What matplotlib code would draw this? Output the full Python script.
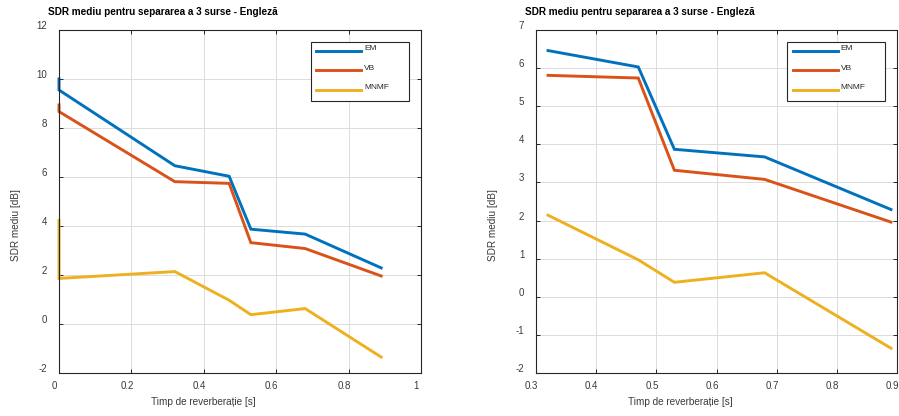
import matplotlib
matplotlib.use('Agg')
import matplotlib.pyplot as plt
from matplotlib.transforms import ScaledTranslation

plt.rcParams['font.family'] = ['Liberation Sans', 'DejaVu Sans']

# ---- data ----
reverb_time = [0.32, 0.47, 0.53, 0.68, 0.89]
em_sdr = [6.46, 6.03, 3.87, 3.67, 2.29]
vb_sdr = [5.81, 5.74, 3.32, 3.08, 1.96]
mnmf_sdr = [2.14, 0.97, 0.38, 0.63, -1.35]

# extra points present only in the left chart (at t = 0)
zero_time = [0, 0]
em_zero = [10.0, 9.55]
vb_zero = [8.94, 8.67]
mnmf_zero = [4.22, 1.86]

series_names = ['EM', 'VB', 'MNMF']
series_colors = ['#0072BD', '#D95319', '#EDB120']

title_text = 'SDR mediu pentru separarea a 3 surse - Engleză'
xlabel_text = 'Timp de reverberație [s]'
ylabel_text = 'SDR mediu [dB]'

left_xticks = [0, 0.2, 0.4, 0.6, 0.8, 1]
left_xticklabels = ['0', '0.2', '0.4', '0.6', '0.8', '1']
left_yticks = [-2, 0, 2, 4, 6, 8, 10, 12]
right_xticks = [0.3, 0.4, 0.5, 0.6, 0.7, 0.8, 0.9]
right_xticklabels = ['0.3', '0.4', '0.5', '0.6', '0.7', '0.8', '0.9']
right_yticks = [-2, -1, 0, 1, 2, 3, 4, 5, 6, 7]

W, H = 899, 416
fig = plt.figure(figsize=(W / 100, H / 100), dpi=100)

ax_l = fig.add_axes([59 / W, (H - 373) / H, 362 / W, 343 / H])
ax_r = fig.add_axes([536 / W, (H - 373) / H, 361 / W, 343 / H])

tick_col = '#262626'

left_series = [zero_time + reverb_time, [em_zero + em_sdr, vb_zero + vb_sdr, mnmf_zero + mnmf_sdr]]
right_series = [reverb_time, [em_sdr, vb_sdr, mnmf_sdr]]

for ax, (xs, ys), xt, xtl, yt, xlim, ylim in [
    (ax_l, left_series, left_xticks, left_xticklabels, left_yticks, (0, 1), (-2, 12)),
    (ax_r, right_series, right_xticks, right_xticklabels, right_yticks, (0.3, 0.9), (-2, 7)),
]:
    for y, name, c in zip(ys, series_names, series_colors):
        ax.plot(xs, y, color=c, lw=2.1, label=name, solid_joinstyle='miter', clip_on=False)
    ax.set_xlim(*xlim)
    ax.set_ylim(*ylim)
    ax.set_xticks(xt)
    ax.set_xticklabels(xtl)
    ax.set_yticks(yt)
    ax.set_yticklabels([str(v) for v in yt])
    ax.grid(True, color='#dcdcdc', lw=0.7)
    ax.set_axisbelow(True)
    for s in ax.spines.values():
        s.set_color(tick_col)
        s.set_linewidth(0.8)
    ax.tick_params(axis='both', direction='in', length=2.6, width=0.7, color=tick_col,
                   labelcolor='#3a3a3a', labelsize=7.0, top=True, right=True)
    ax.tick_params(axis='y', pad=8.5)
    ax.tick_params(axis='x', pad=5.5)

    # offsets mimicking the reference rendering
    for lbl in ax.get_xticklabels():
        lbl.set_transform(lbl.get_transform() + ScaledTranslation(-4.5 / 100, 0, fig.dpi_scale_trans))
    for lbl in ax.get_yticklabels():
        lbl.set_transform(lbl.get_transform() + ScaledTranslation(0, 5 / 100, fig.dpi_scale_trans))

    ax.set_xlabel(xlabel_text, fontsize=7.2, color='#3a3a3a')
    ax.xaxis.set_label_coords(0.40, -0.070)
    ax.set_ylabel(ylabel_text, fontsize=7.2, color='#3a3a3a')
    ax.yaxis.set_label_coords(-0.105, 0.43)

    ax.text(-0.03, 1.0525, title_text, transform=ax.transAxes, ha='left', va='center',
            fontsize=7.2, fontweight='bold', color='black')

    leg = ax.legend(loc='upper left', bbox_to_anchor=(0.695, 0.791, 0.272, 0.173),
                    mode='expand', borderaxespad=0,
                    fontsize=6, frameon=True, fancybox=False, framealpha=1,
                    edgecolor=tick_col, handlelength=5.4, handletextpad=0.36,
                    labelspacing=1.4, borderpad=0.68)
    leg.get_frame().set_linewidth(0.8)
    for t in leg.get_texts():
        t.set_y(3.5)
        t.set_color('#262626')

fig.savefig('out.png', dpi=100)
